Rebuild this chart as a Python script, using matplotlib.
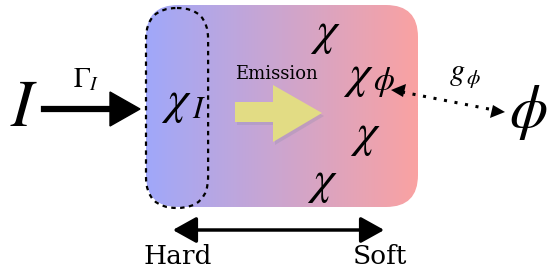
import numpy as np
import matplotlib.pyplot as plt
from matplotlib.patches import FancyBboxPatch, FancyArrowPatch, Polygon

plt.rcParams['mathtext.fontset'] = 'stix'
plt.rcParams['font.family'] = 'DejaVu Serif'

# labels of the diagram
source_label = r'$I$'
rate_label = r'$\Gamma_I$'
inner_label = (r'$\chi$', r'$I$')
emit_label = 'Emission'
chi_labels = [r'$\chi$', r'$\chi$', r'$\chi$', r'$\chi$']
chi_pos = [(325, 33), (358, 76), (365, 135), (322, 182)]
sub_label = r'$\phi$'
coupling_label = r'$g_{\,\phi}$'
field_label = r'$\phi$'
axis_labels = ['Hard', 'Soft']

left_col = np.array([160, 168, 250]) / 255
right_col = np.array([250, 162, 162]) / 255

fig = plt.figure(figsize=(5.48, 2.8), dpi=100)
ax = fig.add_axes([0, 0, 1, 1])
ax.set_xlim(0, 548)
ax.set_ylim(280, 0)
ax.axis('off')

# gradient box
box = FancyBboxPatch((146 + 32, 5 + 32), 418 - 146 - 64, 207 - 5 - 64,
                     boxstyle='round,pad=32', facecolor='none', edgecolor='none')
ax.add_patch(box)
t = np.linspace(0, 1, 256)
grad = left_col[None, :] * (1 - t[:, None]) + right_col[None, :] * t[:, None]
im = ax.imshow(grad[None, :, :], extent=(146, 418, 207, 5), aspect='auto', zorder=1)
im.set_clip_path(box)

# dashed stadium
stadium = FancyBboxPatch((146 + 31, 8 + 31), 0.1, 200 - 62, boxstyle='round,pad=31',
                         facecolor='none', edgecolor='black', linestyle=(0, (2, 2)),
                         linewidth=1.6, zorder=3)
ax.add_patch(stadium)

# input arrow
ax.plot([44, 118], [109, 109], color='black', linewidth=4.5, zorder=4)
ax.add_patch(Polygon([(110, 92), (140, 109), (110, 126)], closed=True,
                     facecolor='black', edgecolor='black', zorder=4))
ax.text(24, 107, source_label, fontsize=48, ha='center', va='center')
ax.text(86, 80, rate_label, fontsize=20, ha='center', va='center')
ax.text(176, 102, inner_label[0], fontsize=34, ha='center', va='center', zorder=5)
ax.text(199, 110, inner_label[1], fontsize=22, ha='center', va='center', zorder=5)

# emission arrow with shadow
arr = [(235, 102), (273, 102), (273, 85), (322, 113), (273, 142), (273, 122), (235, 122)]
ax.add_patch(Polygon([(x + 2, y + 3) for x, y in arr], closed=True, facecolor='#9a8fb0',
                     alpha=0.35, edgecolor='none', zorder=4))
ax.add_patch(Polygon(arr, closed=True, facecolor='#e2dc84', edgecolor='none', zorder=5))
ax.text(276, 74, emit_label, fontsize=13, ha='center', va='center', zorder=5)

for lab, (x, y) in zip(chi_labels, chi_pos):
    ax.text(x, y, lab, fontsize=34, ha='center', va='center', zorder=5)
ax.text(384, 82, sub_label, fontsize=24, ha='center', va='center', zorder=5)

# coupling arrow: dotted line, solid heads
ax.plot([402, 494], [92, 110], color='black', linestyle=(0, (1, 2.5)),
        linewidth=2.2, zorder=5)
ax.add_patch(Polygon([(391, 90), (406, 84), (403, 97)], closed=True,
                     facecolor='black', edgecolor='none', zorder=5))
ax.add_patch(Polygon([(505, 112), (490, 118), (493, 105)], closed=True,
                     facecolor='black', edgecolor='none', zorder=5))
ax.text(465, 74, coupling_label, fontsize=22, ha='center', va='center')
ax.text(528, 112, field_label, fontsize=44, ha='center', va='center')

# hard / soft axis
ax.add_patch(FancyArrowPatch((170, 230), (387, 230), arrowstyle='<|-|>,head_length=0.9,head_width=0.5',
                             mutation_scale=16, color='black', linewidth=2.5, zorder=5))
ax.text(178, 256, axis_labels[0], fontsize=19, ha='center', va='center')
ax.text(380, 256, axis_labels[1], fontsize=19, ha='center', va='center')

fig.savefig('out.png', dpi=100)
